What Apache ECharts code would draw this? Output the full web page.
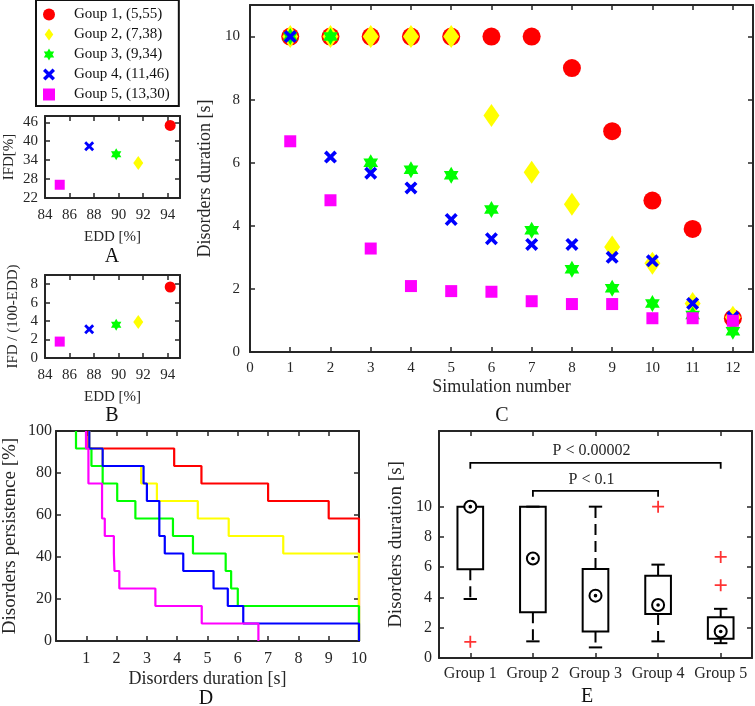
<!DOCTYPE html>
<html><head><meta charset="utf-8">
<script src="https://cdn.jsdelivr.net/npm/echarts@6/dist/echarts.min.js"></script>
<style>html,body{margin:0;padding:0;background:#fff}#c{width:755px;height:706px}</style>
</head><body><div id="c"></div>
<script>
// ---------------- data ----------------
const groupNames = ['Goup 1, (5,55)', 'Goup 2, (7,38)', 'Goup 3, (9,34)', 'Goup 4, (11,46)', 'Goup 5, (13,30)'];
const groupColors = ['#ff0000', '#ffff00', '#00ff00', '#0000ff', '#ff00ff'];

const simNumbers = [1, 2, 3, 4, 5, 6, 7, 8, 9, 10, 11, 12];
const durGroup1 = [10, 10, 10, 10, 10, 10, 10, 9, 7, 4.8, 3.9, 1.07];
const durGroup2 = [10, 10, 10, 10, 10, 7.5, 5.7, 4.68, 3.33, 2.81, 1.54, 1.1];
const durGroup3 = [10, 10, 6.0, 5.78, 5.6, 4.52, 3.86, 2.62, 2.02, 1.54, 1.17, 0.66];
const durGroup4 = [10, 6.18, 5.67, 5.2, 4.2, 3.59, 3.41, 3.41, 3.0, 2.89, 1.54, 1.1];
const durGroup5 = [6.68, 4.81, 3.28, 2.09, 1.93, 1.91, 1.61, 1.52, 1.52, 1.07, 1.07, 0.99];

const eddValues = [94.2, 91.6, 89.8, 87.6, 85.2];
const ifdValues = [45, 33.1, 35.9, 38.4, 26.2];
const ifdRatioValues = [7.7, 3.9, 3.6, 3.13, 1.78];

const boxCategories = ['Group 1', 'Group 2', 'Group 3', 'Group 4', 'Group 5'];
const boxLowerWhisker = [3.9, 1.1, 0.7, 1.1, 0.98];
const boxQ1 = [5.87, 3.03, 1.75, 2.91, 1.27];
const boxMedian = [10, 6.57, 4.12, 3.5, 1.75];
const boxQ3 = [10, 10, 5.88, 5.43, 2.69];
const boxUpperWhisker = [10, 10, 10, 6.17, 3.25];
const outlierGroup = [0, 3, 4, 4];
const outlierValue = [1.07, 10, 6.68, 4.81];

const bracketFrom = [0, 1];
const bracketTo = [4, 3];
const bracketLevel = [12.9, 11.05];
const bracketEnd = [12.5, 10.65];
const bracketTextLevel = [13.7, 11.8];
const bracketText = ['P < 0.00002', 'P < 0.1'];

const ticksAx = [84, 86, 88, 90, 92, 94];
const ticksAy = [22, 28, 34, 40, 46];
const ticksBy = [0, 2, 4, 6, 8];
const ticksCx = [0, 1, 2, 3, 4, 5, 6, 7, 8, 9, 10, 11, 12];
const ticksCy = [0, 2, 4, 6, 8, 10];
const ticksDx = [1, 2, 3, 4, 5, 6, 7, 8, 9, 10];
const ticksDy = [0, 20, 40, 60, 80, 100];
const ticksEy = [0, 2, 4, 6, 8, 10];

// ---------------- helpers ----------------
const durations = [durGroup1, durGroup2, durGroup3, durGroup4, durGroup5];
const AX = '#262626';
const FONT = 'Liberation Serif';

const SYM_HEX = 'path://M0,-10L8.66,5L-8.66,5Z M0,10L-8.66,-5L8.66,-5Z';
const SYM_X = 'path://M-5,-3L-3,-5L0,-2L3,-5L5,-3L2,0L5,3L3,5L0,2L-3,5L-5,3L-2,0Z';
const SYM_PLUS = 'path://M-0.9,-6L0.9,-6L0.9,-0.9L6,-0.9L6,0.9L0.9,0.9L0.9,6L-0.9,6L-0.9,0.9L-6,0.9L-6,-0.9L-0.9,-0.9Z';
const SYM_DIAMOND = 'path://M0,-7L5,0L0,7L-5,0Z';
const SYM_SQUARE = 'path://M0,0L10,0L10,10L0,10Z';
const groupSymbols = ['circle', 'diamond', SYM_HEX, SYM_X, 'rect'];
const legendIcons = ['circle', SYM_DIAMOND, SYM_HEX, SYM_X, SYM_SQUARE];
const sizeC = [18, [16, 23], 17, 13, 12];
const sizeAB = [11, [10, 14], 12, 10, 10];

function makeAxis(o) {
  const mirror = !!o.mirror;
  const ticks = o.ticks;
  const ax = {
    gridIndex: o.grid, type: o.type || 'value', position: o.position,
    axisLine: { show: true, onZero: false, lineStyle: { color: AX, width: 2 } },
    axisTick: { show: true, inside: true, length: 5, alignWithLabel: true, lineStyle: { color: AX, width: 1.5 } },
    axisLabel: { show: !mirror, margin: o.margin, fontFamily: FONT, fontSize: o.fontSize, color: AX },
    splitLine: { show: false },
    name: mirror ? '' : (o.name || ''), nameLocation: 'middle', nameGap: o.nameGap,
    nameTextStyle: { fontFamily: FONT, fontSize: o.nameSize, color: AX }
  };
  if (ax.type === 'category') {
    ax.data = o.data; ax.boundaryGap = true;
    ax.axisLabel.interval = 0; ax.axisTick.interval = 0;
    ax.axisLabel.hideOverlap = false;
  } else {
    ax.min = o.min; ax.max = o.max; ax.interval = o.interval;
    ax.axisTick.customValues = ticks;
    ax.axisLabel.customValues = ticks;
    ax.axisLabel.formatter = v => (ticks.indexOf(v) >= 0 ? String(v) : '');
  }
  return ax;
}
function axisPair(base, posMain, posMirror) {
  return [makeAxis(Object.assign({}, base, { position: posMain })),
          makeAxis(Object.assign({}, base, { position: posMirror, mirror: true }))];
}

const xAxes = [].concat(
  axisPair({ grid: 0, min: 84, max: 95, interval: 2, ticks: ticksAx, margin: 10, fontSize: 15, name: 'EDD [%]', nameGap: 32, nameSize: 15 }, 'bottom', 'top'),
  axisPair({ grid: 1, min: 84, max: 95, interval: 2, ticks: ticksAx, margin: 10, fontSize: 15, name: 'EDD [%]', nameGap: 32, nameSize: 15 }, 'bottom', 'top'),
  axisPair({ grid: 2, min: 0, max: 12.5, interval: 1, ticks: ticksCx, margin: 9, fontSize: 15, name: 'Simulation number', nameGap: 26, nameSize: 18 }, 'bottom', 'top'),
  axisPair({ grid: 3, min: 0, max: 10, interval: 1, ticks: ticksDx, margin: 10, fontSize: 16, name: 'Disorders duration [s]', nameGap: 29, nameSize: 18 }, 'bottom', 'top'),
  axisPair({ grid: 4, type: 'category', data: boxCategories, margin: 8, fontSize: 16, name: '', nameGap: 30, nameSize: 18 }, 'bottom', 'top')
);
const yAxes = [].concat(
  axisPair({ grid: 0, min: 22, max: 48, interval: 6, ticks: ticksAy, margin: 7, fontSize: 15, name: 'IFD[%]', nameGap: 28, nameSize: 15 }, 'left', 'right'),
  axisPair({ grid: 1, min: 0, max: 9, interval: 2, ticks: ticksBy, margin: 7, fontSize: 15, name: 'IFD / (100-EDD)', nameGap: 24, nameSize: 15 }, 'left', 'right'),
  axisPair({ grid: 2, min: 0, max: 11, interval: 2, ticks: ticksCy, margin: 10, fontSize: 15, name: 'Disorders duration [s]', nameGap: 28, nameSize: 18 }, 'left', 'right'),
  axisPair({ grid: 3, min: 0, max: 100, interval: 20, ticks: ticksDy, margin: 4, fontSize: 16, name: 'Disorders persistence [%]', nameGap: 36, nameSize: 19 }, 'left', 'right'),
  axisPair({ grid: 4, min: 0, max: 15, interval: 1, ticks: ticksEy, margin: 7, fontSize: 16, name: 'Disorders duration [s]', nameGap: 33, nameSize: 19 }, 'left', 'right')
);

function survivalSteps(values) {
  const sorted = values.slice().sort((a, b) => a - b);
  const n = sorted.length;
  const uniq = sorted.filter((v, i) => i === 0 || v !== sorted[i - 1]);
  const pts = [];
  let prev = 100;
  uniq.forEach(v => {
    const s = sorted.filter(x => x > v).length / n * 100;
    pts.push([v, prev]); pts.push([v, s]);
    prev = s;
  });
  return pts;
}

const series = [];
// Panel C
groupNames.forEach((name, g) => {
  series.push({
    name, type: 'scatter', xAxisIndex: 4, yAxisIndex: 4,
    symbol: groupSymbols[g], symbolSize: sizeC[g], symbolKeepAspect: true,
    itemStyle: { color: groupColors[g], opacity: 1 },
    data: simNumbers.map((s, i) => [s, durations[g][i]]), silent: true
  });
});
// Panel A
groupNames.forEach((name, g) => {
  series.push({
    name, type: 'scatter', xAxisIndex: 0, yAxisIndex: 0,
    symbol: groupSymbols[g], symbolSize: sizeAB[g], symbolKeepAspect: true,
    itemStyle: { color: groupColors[g], opacity: 1 },
    data: [[eddValues[g], ifdValues[g]]], silent: true
  });
});
// Panel B
groupNames.forEach((name, g) => {
  series.push({
    name, type: 'scatter', xAxisIndex: 2, yAxisIndex: 2,
    symbol: groupSymbols[g], symbolSize: sizeAB[g], symbolKeepAspect: true,
    itemStyle: { color: groupColors[g], opacity: 1 },
    data: [[eddValues[g], ifdRatioValues[g]]], silent: true
  });
});
// Panel D
groupNames.forEach((name, g) => {
  series.push({
    name: name + ' D', type: 'line', xAxisIndex: 6, yAxisIndex: 6,
    showSymbol: false, symbol: 'none', silent: true,
    lineStyle: { color: groupColors[g], width: 2.2 },
    data: survivalSteps(durations[g])
  });
});
// Panel E boxes
series.push({
  type: 'custom', xAxisIndex: 8, yAxisIndex: 8, silent: true,
  encode: { x: 0, y: [1, 2, 3, 4, 5] },
  data: boxCategories.map((c, i) => [i, boxLowerWhisker[i], boxQ1[i], boxMedian[i], boxQ3[i], boxUpperWhisker[i]]),
  renderItem: function (params, api) {
    const idx = api.value(0);
    const pLow = api.coord([idx, api.value(1)]);
    const pQ1 = api.coord([idx, api.value(2)]);
    const pMed = api.coord([idx, api.value(3)]);
    const pQ3 = api.coord([idx, api.value(4)]);
    const pHigh = api.coord([idx, api.value(5)]);
    const band = api.size([1, 0])[0];
    const bw = band * 0.41, cw = bw * 0.52, cx = pQ1[0];
    const ls = { stroke: '#000', lineWidth: 2, fill: null };
    const ch = [];
    if (pQ3[1] - pHigh[1] > 0.5) {
      ch.push({ type: 'line', shape: { x1: cx, y1: pQ3[1], x2: cx, y2: pHigh[1] }, style: Object.assign({ lineDash: [11, 6] }, ls) });
    }
    ch.push({ type: 'line', shape: { x1: cx - cw / 2, y1: pHigh[1], x2: cx + cw / 2, y2: pHigh[1] }, style: ls });
    if (pLow[1] - pQ1[1] > 0.5) {
      ch.push({ type: 'line', shape: { x1: cx, y1: pQ1[1], x2: cx, y2: pLow[1] }, style: Object.assign({ lineDash: [11, 6] }, ls) });
    }
    ch.push({ type: 'line', shape: { x1: cx - cw / 2, y1: pLow[1], x2: cx + cw / 2, y2: pLow[1] }, style: ls });
    ch.push({ type: 'rect', shape: { x: cx - bw / 2, y: pQ3[1], width: bw, height: pQ1[1] - pQ3[1] }, style: ls });
    ch.push({ type: 'circle', shape: { cx: cx, cy: pMed[1], r: 6 }, style: { fill: '#fff', stroke: '#000', lineWidth: 2 } });
    ch.push({ type: 'circle', shape: { cx: cx, cy: pMed[1], r: 1.8 }, style: { fill: '#000' } });
    return { type: 'group', children: ch };
  }
});
// Panel E outliers
series.push({
  type: 'scatter', xAxisIndex: 8, yAxisIndex: 8, silent: true,
  symbol: SYM_PLUS, symbolSize: 12, itemStyle: { color: '#ff0000' },
  data: outlierGroup.map((g, i) => [g, outlierValue[i]])
});
// Panel E brackets
series.push({
  type: 'custom', xAxisIndex: 8, yAxisIndex: 8, silent: true,
  encode: { x: [0, 1], y: [2, 3, 4] },
  data: bracketFrom.map((f, i) => [f, bracketTo[i], bracketLevel[i], bracketEnd[i], bracketTextLevel[i]]),
  renderItem: function (params, api) {
    const f = api.value(0), t = api.value(1);
    const a = api.coord([f, api.value(3)]), b = api.coord([f, api.value(2)]);
    const c = api.coord([t, api.value(2)]), d = api.coord([t, api.value(3)]);
    const tp = api.coord([f, api.value(4)]);
    return {
      type: 'group', children: [
        { type: 'polyline', shape: { points: [a, b, c, d] }, style: { stroke: '#000', lineWidth: 1.8, fill: null } },
        { type: 'text', x: (b[0] + c[0]) / 2 - 4, y: tp[1],
          style: { text: bracketText[params.dataIndex], fontFamily: FONT, fontSize: 16, fill: AX, align: 'center', verticalAlign: 'middle' } }
      ]
    };
  }
});

const panelLetter = (t, x, y) => ({
  type: 'text', x, y, silent: true,
  style: { text: t, fontFamily: FONT, fontSize: 20, fill: '#111', align: 'center', verticalAlign: 'middle' }
});

const option = {
  animation: false,
  backgroundColor: '#fff',
  grid: [
    { left: 45, top: 116, width: 135, height: 82 },
    { left: 45, top: 275, width: 135, height: 83 },
    { left: 250, top: 5, width: 503, height: 347 },
    { left: 53, top: 431, width: 306, height: 210 },
    { left: 439, top: 431, width: 313, height: 227 }
  ],
  xAxis: xAxes,
  yAxis: yAxes,
  legend: {
    orient: 'vertical', left: 36, top: 0,
    selectedMode: false,
    padding: [7, 9, 4, 7],
    itemWidth: 40, itemHeight: 12, itemGap: 5,
    borderColor: '#111', borderWidth: 2,
    symbolKeepAspect: true,
    data: groupNames.map((n, i) => ({ name: n, icon: legendIcons[i], itemStyle: { color: groupColors[i] } })),
    textStyle: { fontFamily: FONT, fontSize: 15, color: '#111', lineHeight: 15 }
  },
  graphic: [
    panelLetter('A', 112, 257),
    panelLetter('B', 112, 416),
    panelLetter('C', 502, 416),
    panelLetter('D', 206, 699),
    panelLetter('E', 587, 697)
  ],
  series
};

const chart = echarts.init(document.getElementById('c'), null, { renderer: 'canvas' });
chart.setOption(option);
</script>
</body></html>
